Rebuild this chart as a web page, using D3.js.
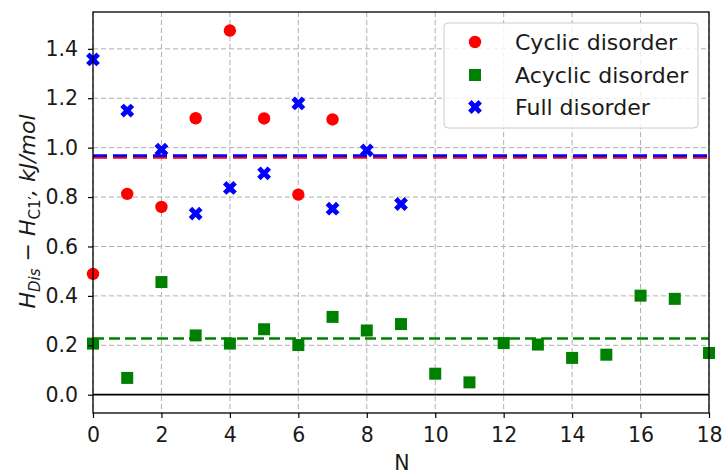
<!DOCTYPE html>
<html>
<head>
<meta charset="utf-8">
<style>
  body { margin: 0; background: #fff; }
  svg { font-family: "DejaVu Sans", sans-serif; }
</style>
</head>
<body>
<script src="https://cdn.jsdelivr.net/npm/d3@7"></script>
<div id="container1"></div>
<script>

// data
const cyclicN = [0, 1, 2, 3, 4, 5, 6, 7];
const cyclicH = [0.489, 0.813, 0.760, 1.119, 1.474, 1.118, 0.810, 1.114];

const acyclicN = [0, 1, 2, 3, 4, 5, 6, 7, 8, 9, 10, 11, 12, 13, 14, 15, 16, 17, 18];
const acyclicH = [0.207, 0.068, 0.456, 0.240, 0.207, 0.265, 0.201, 0.315, 0.260, 0.286,
                  0.085, 0.050, 0.209, 0.203, 0.149, 0.162, 0.401, 0.388, 0.169];

const fullN = [0, 1, 2, 3, 4, 5, 6, 7, 8, 9];
const fullH = [1.357, 1.150, 0.992, 0.733, 0.837, 0.896, 1.179, 0.753, 0.989, 0.772];

const xTicks = [0, 2, 4, 6, 8, 10, 12, 14, 16, 18];
const yTicks = [0.0, 0.2, 0.4, 0.6, 0.8, 1.0, 1.2, 1.4];
const seriesNames = ["Cyclic disorder", "Acyclic disorder", "Full disorder"];

const red = "#ff0000", green = "#008000", blue = "#0000ff";

const margin = {top: 12, right: 16, bottom: 62, left: 93},
    width = 725 - margin.left - margin.right,
    height = 475 - margin.top - margin.bottom;

const svg = d3.select("#container1")
  .append("svg")
    .attr("width", 725)
    .attr("height", 475)
  .append("g")
    .attr("transform", `translate(${margin.left},${margin.top})`);

const x = d3.scaleLinear().domain([0, 18]).range([0, width]);
const y = d3.scaleLinear().domain([-0.074, 1.549]).range([height, 0]);

// grid
svg.append("g").selectAll("line.gx")
  .data(xTicks)
  .join("line")
    .attr("x1", d => x(d)).attr("x2", d => x(d))
    .attr("y1", 0).attr("y2", height)
    .attr("stroke", "#b0b0b0").attr("stroke-width", 1)
    .attr("stroke-dasharray", "5,3");
svg.append("g").selectAll("line.gy")
  .data(yTicks)
  .join("line")
    .attr("x1", 0).attr("x2", width)
    .attr("y1", d => y(d)).attr("y2", d => y(d))
    .attr("stroke", "#b0b0b0").attr("stroke-width", 1)
    .attr("stroke-dasharray", "5,3");

// zero line
svg.append("line")
  .attr("x1", 0).attr("x2", width)
  .attr("y1", y(0)).attr("y2", y(0))
  .attr("stroke", "#000").attr("stroke-width", 1.8);

// mean lines
const meanLine = (v, c, dash, dy) => svg.append("line")
  .attr("x1", 0).attr("x2", width)
  .attr("y1", y(v) + dy).attr("y2", y(v) + dy)
  .attr("stroke", c).attr("stroke-width", 2.6)
  .attr("stroke-dasharray", dash);
meanLine(d3.mean(acyclicH), green, "11,5", 0);
meanLine(d3.mean(cyclicH), red, "14,6", 0.5);
meanLine(d3.mean(fullH), blue, "14,6", -0.5);

const plot = svg.append("g");

// cyclic: circles
plot.selectAll("circle.cyc")
  .data(cyclicN.map((n, i) => [n, cyclicH[i]]))
  .join("circle")
    .attr("cx", d => x(d[0])).attr("cy", d => y(d[1]))
    .attr("r", 6.2).attr("fill", red);

// acyclic: squares
const sq = 12;
plot.selectAll("rect.acy")
  .data(acyclicN.map((n, i) => [n, acyclicH[i]]))
  .join("rect")
    .attr("x", d => x(d[0]) - sq / 2).attr("y", d => y(d[1]) - sq / 2)
    .attr("width", sq).attr("height", sq).attr("fill", green);

// full: filled X
const xMark = d3.symbol().type(d3.symbolCross).size(120);
plot.selectAll("path.full")
  .data(fullN.map((n, i) => [n, fullH[i]]))
  .join("path")
    .attr("d", xMark)
    .attr("transform", d => `translate(${x(d[0])},${y(d[1])}) rotate(45)`)
    .attr("fill", blue);

// frame
svg.append("rect")
  .attr("width", width).attr("height", height)
  .attr("fill", "none").attr("stroke", "#000").attr("stroke-width", 1.3);

// axes
const xAxis = svg.append("g")
  .attr("transform", `translate(0,${height})`)
  .call(d3.axisBottom(x).tickValues(xTicks).tickFormat(d3.format("d")).tickSize(5).tickPadding(9));
const yAxis = svg.append("g")
  .call(d3.axisLeft(y).tickValues(yTicks).tickFormat(d3.format(".1f")).tickSize(5).tickPadding(10));
[xAxis, yAxis].forEach(a => {
  a.select(".domain").remove();
  a.selectAll("text").attr("font-size", 20.5).attr("fill", "#1a1a1a").attr("font-family", "DejaVu Sans");
  a.selectAll("line").attr("stroke", "#000").attr("stroke-width", 1.2);
});

// axis labels
svg.append("text")
  .attr("x", width / 2 + 1).attr("y", height + 57)
  .attr("text-anchor", "middle").attr("font-size", 20.5).attr("fill", "#1a1a1a")
  .text("N");

const yl = svg.append("text")
  .attr("transform", `translate(${-58},${height / 2 - 1}) rotate(-90)`)
  .attr("text-anchor", "middle").attr("font-size", 22).attr("fill", "#1a1a1a")
  .attr("font-style", "italic");
yl.append("tspan").text("H");
yl.append("tspan").attr("font-size", 15).attr("dy", 5).text("Dis");
yl.append("tspan").attr("font-style", "normal").attr("dy", -5).text(" \u2212 ");
yl.append("tspan").text("H");
yl.append("tspan").attr("font-size", 15).attr("dy", 5).attr("font-style", "normal").text("C1\u2032");
yl.append("tspan").attr("dy", -5).text(", kJ/mol");

// legend
const lg = svg.append("g").attr("transform", `translate(${444 - margin.left},${23 - margin.top})`);
lg.append("rect")
  .attr("width", 254).attr("height", 105).attr("rx", 4)
  .attr("fill", "#fff").attr("fill-opacity", 0.8)
  .attr("stroke", "#cccccc").attr("stroke-width", 1);
const rowY = [19, 52, 84];
lg.append("circle").attr("cx", 31).attr("cy", rowY[0]).attr("r", 6.2).attr("fill", red);
lg.append("rect").attr("x", 31 - sq / 2).attr("y", rowY[1] - sq / 2).attr("width", sq).attr("height", sq).attr("fill", green);
lg.append("path").attr("d", xMark).attr("transform", `translate(31,${rowY[2]}) rotate(45)`).attr("fill", blue);
lg.selectAll("text.lt")
  .data(seriesNames)
  .join("text")
    .attr("x", 71).attr("y", (d, i) => rowY[i])
    .attr("dy", "0.35em").attr("font-size", 22).attr("fill", "#1a1a1a")
    .text(d => d);

</script>
</body>
</html>
